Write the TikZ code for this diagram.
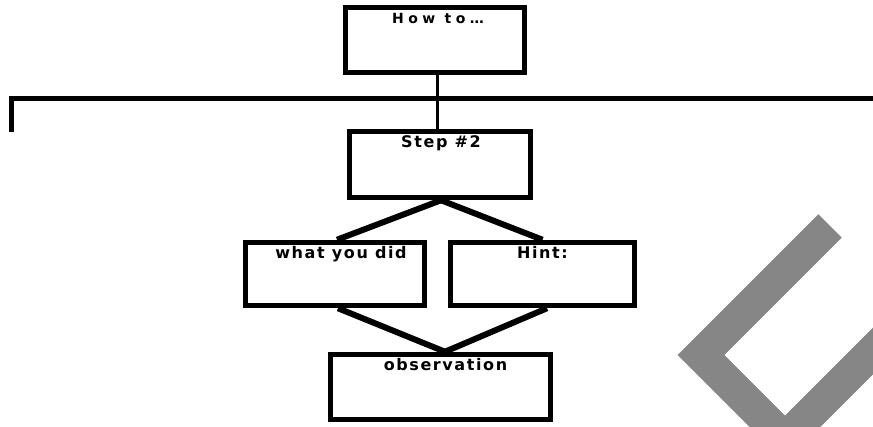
\documentclass[tikz,border=0pt]{standalone}
\usepackage{fontspec}
\newfontfamily\lblfont{DejaVu Sans}[LetterSpace=10]
\newfontfamily\widefont{DejaVu Sans}[LetterSpace=32]
\definecolor{markgray}{RGB}{134,134,134}
\tikzset{
  stepbox/.style={draw=black, line width=5.5pt, fill=white, inner sep=0pt},
  lbl/.style={anchor=base, inner sep=0pt, font=\lblfont\bfseries\fontsize{16}{18}\selectfont},
  wlbl/.style={anchor=base, inner sep=0pt, font=\widefont\bfseries\fontsize{14}{16}\selectfont},
  link/.style={line width=6pt, line cap=butt},
  stem/.style={line width=3pt},
  bar/.style={line width=5pt, line join=miter}
}
\begin{document}
\begin{tikzpicture}[x=1pt, y=-1pt]
\useasboundingbox (0,0) rectangle (873,427);

% grey tick in the lower right corner
\begin{scope}
  \clip (0,0) rectangle (873,427);
  \draw[markgray, line width=33pt, line join=miter, line cap=butt]
    (830,226) -- (701,355) -- (785,439) -- (905,319);
\end{scope}

% boxes
\node[stepbox, minimum width=179pt, minimum height=65pt] (howto) at (435,40) {};
\node[stepbox, minimum width=181pt, minimum height=66pt] (step)  at (440,164.5) {};
\node[stepbox, minimum width=179pt, minimum height=63pt] (what)  at (335,274) {};
\node[stepbox, minimum width=184pt, minimum height=63pt] (hint)  at (542.5,274) {};
\node[stepbox, minimum width=220pt, minimum height=65pt] (obs)   at (440.5,387) {};

% box titles
\node[wlbl] (howtotext) at ([xshift=3pt, yshift=-19pt]howto.north) {How to…};
\node[lbl]  (steptext)  at ([xshift=1pt, yshift=-19pt]step.north) {Step \#2};
\node[lbl]  (whattext)  at ([xshift=6pt, yshift=-19pt]what.north) {what you did};
\node[lbl]  (hinttext)  at ([yshift=-19pt]hint.north) {Hint:};
\node[lbl]  (obstext)   at ([xshift=5pt, yshift=-19pt]obs.north) {observation};

% top bracket and stem
\coordinate (barleft) at (11.5,132);
\coordinate (barright) at (880,98.5);
\draw[bar] (barleft) |- (barright);
\draw[stem] ([xshift=2pt]howto.south) -- ([xshift=-3pt]step.north);

% links between the steps
\draw[link] ([xshift=1pt]step.south) -- ([xshift=2pt]what.north);
\draw[link] ([xshift=1pt]step.south) -- (hint.north);
\draw[link] ([xshift=3pt]what.south) -- ([xshift=4.5pt]obs.north);
\draw[link] ([xshift=4.5pt]hint.south) -- ([xshift=4.5pt]obs.north);
\end{tikzpicture}
\end{document}
